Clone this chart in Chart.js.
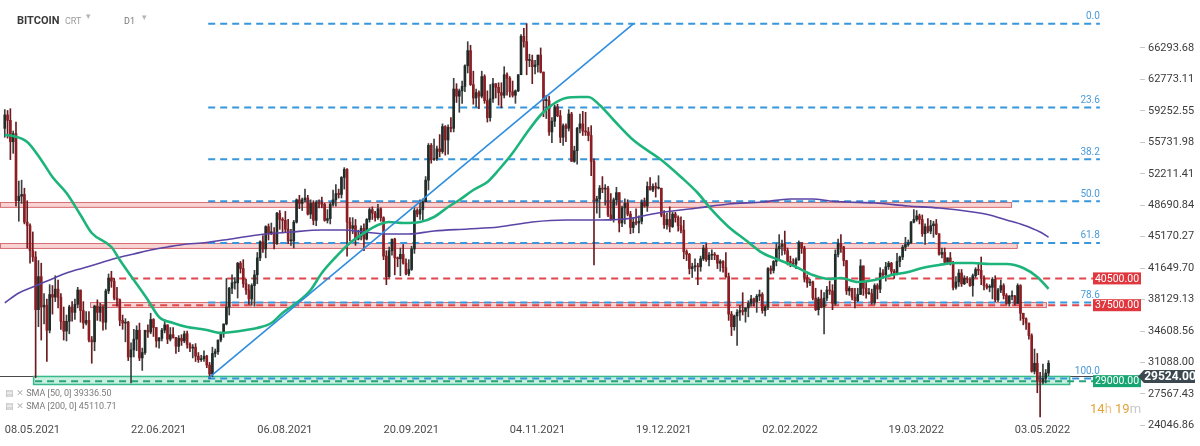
<!DOCTYPE html>
<html>
<head>
<meta charset="utf-8">
<script src="https://cdn.jsdelivr.net/npm/chart.js@4.4.0/dist/chart.umd.min.js"></script>
<style>
  html, body { margin: 0; padding: 0; background: #fff; }
  #wrap { position: relative; width: 1200px; height: 446px; font-family: Roboto, sans-serif; overflow: hidden; }
  #wrap canvas { position: absolute; left: 0; top: 0; }
  .txt { position: absolute; white-space: nowrap; line-height: 1; }
  .sym { font-family: "DejaVu Sans", sans-serif; color: #b5b5b5; }
</style>
</head>
<body>
<div id="wrap">
  <canvas id="chart" width="1200" height="446"></canvas>
  <div class="txt" style="left:17px;top:15px;font-size:11px;font-weight:700;color:#3a3a3a">BITCOIN</div>
  <div class="txt" style="left:65px;top:17px;font-size:9px;color:#9a9a9a">CRT</div>
  <div class="txt sym" style="left:86px;top:12px;font-size:9px">▾</div>
  <div class="txt" style="left:124px;top:17px;font-size:9px;color:#777">D1</div>
  <div class="txt sym" style="left:142px;top:13px;font-size:9px">▾</div>
  <div class="txt" style="left:5px;top:389px;font-size:9px;color:#7a7a7a"><span class="sym">▤ ✕</span> SMA [50, 0] 39336.50</div>
  <div class="txt" style="left:5px;top:402px;font-size:9px;color:#7a7a7a"><span class="sym">▤ ✕</span> SMA [200, 0] 45110.71</div>
  <div class="txt" style="left:1090px;top:402px;font-size:13px;color:#e3a33a">14<span style="color:#ecc58c">h</span> 19<span style="color:#c9c9c9">m</span></div>
</div>
<script>
// daily candles from 08.05.2021, prices in thousands of USD
const opens = [
  57.3,58.8,58.2,55.8,56.7,49.2,49.7,49.9,46.8,46.4,43.6,42.9,37.0,40.7,37.3,37.5,34.7,38.7,38.4,39.3,38.4,35.7,34.6,35.7,
  37.3,36.7,37.6,39.2,36.9,35.5,35.8,33.6,33.4,37.4,36.7,37.3,35.6,39.1,40.5,40.2,38.3,38.1,35.8,35.5,35.6,31.7,32.5,33.7,34.7,31.6,32.2,34.7,34.5,35.9,
  35.0,33.5,33.8,34.7,35.3,33.7,34.2,33.9,32.9,33.8,33.5,34.3,33.1,32.7,32.8,31.8,31.4,31.5,31.8,30.8,29.8,32.1,32.3,33.6,34.3,35.4,37.3,39.4,40.0,40.0,42.2,
  41.6,39.9,39.2,38.2,39.7,40.9,42.8,44.6,43.8,46.3,45.6,45.6,44.4,47.8,47.1,47.0,46.0,44.7,44.7,46.8,49.3,48.9,49.3,49.5,47.7,48.9,47.0,49.0,48.9,48.8,47.0,
  47.2,48.8,49.3,50.0,49.9,51.8,52.7,46.8,46.1,46.4,44.9,45.2,46.1,44.9,47.1,48.2,47.8,47.3,48.3,47.3,43.0,40.7,43.6,44.9,42.8,42.7,43.2,42.2,41.0,41.5,
  43.8,48.1,47.7,48.2,49.1,51.5,55.4,53.8,53.9,55.0,54.7,57.5,56.0,57.4,57.3,61.7,60.9,61.5,62.0,64.3,66.0,62.2,60.7,61.3,60.9,63.1,60.4,58.5,60.6,62.3,61.9,
  61.3,61.0,63.3,62.9,61.4,61.0,61.5,63.3,67.6,67.0,64.9,64.9,64.2,64.4,65.5,63.6,60.4,60.4,56.9,58.1,59.7,58.7,56.3,57.6,57.3,58.9,53.6,54.8,57.3,57.8,
  57.0,56.9,56.5,53.6,49.2,49.4,50.6,50.5,50.6,47.6,47.1,49.3,50.1,46.7,48.4,48.9,47.7,46.2,46.8,46.7,46.9,49.0,48.6,50.8,50.4,50.8,50.6,50.6,47.6,46.5,47.1,
  46.3,47.7,47.3,46.4,45.9,43.5,43.2,41.6,41.8,41.9,41.8,42.7,43.9,42.6,43.1,43.2,43.1,42.2,42.4,41.7,40.7,36.5,35.1,36.3,36.7,36.9,36.8,37.2,37.7,38.2,37.9,
  38.5,38.7,36.9,37.3,41.6,41.4,42.4,43.8,44.1,44.3,43.6,42.4,42.2,42.1,42.6,44.5,43.9,40.6,40.0,40.1,38.3,37.0,38.2,37.3,38.3,39.2,39.1,37.7,
  43.2,44.4,44.0,42.5,39.1,39.4,38.4,38.0,38.7,41.9,39.4,38.8,38.8,37.8,39.7,39.3,41.1,40.9,41.8,42.2,41.3,41.0,42.4,42.9,44.0,44.3,44.5,46.8,47.1,47.5,47.1,
  45.5,46.3,45.8,46.4,46.6,45.5,43.2,43.4,42.3,42.8,42.2,39.5,40.1,41.1,39.9,40.5,40.4,39.7,40.8,41.5,41.4,40.5,39.7,39.5,39.5,40.4,38.1,39.2,39.7,38.6,
  37.7,38.5,38.5,37.7,39.7,36.6,36.0,35.5,34.1,30.1,31.0,29.0,28.9,29.3,29.9
];
const highs = [
  59.4,59.3,59.5,57.0,58.0,51.4,51.5,50.6,49.2,46.6,45.7,43.5,42.5,42.2,38.8,38.2,39.8,39.7,40.8,40.3,38.8,37.3,36.4,37.5,
  37.9,38.2,39.5,39.2,37.9,36.8,36.8,34.0,37.5,38.1,37.7,37.4,39.3,41.0,41.3,40.5,39.5,38.2,36.4,36.0,35.7,33.3,34.8,35.2,35.5,32.7,34.7,35.3,36.6,36.0,
  35.0,33.9,34.9,35.9,35.3,35.0,35.0,33.9,34.1,34.2,34.6,34.6,33.3,33.1,33.2,32.2,31.9,32.4,31.9,31.1,32.8,32.6,33.6,34.5,35.4,40.5,39.5,40.9,40.6,42.3,42.4,
  42.6,40.4,39.8,39.9,41.4,43.4,44.7,45.3,46.4,46.6,46.7,46.2,47.9,48.1,47.3,48.0,47.1,46.0,47.0,49.4,49.8,49.5,50.5,49.8,49.3,49.2,49.2,49.3,49.6,48.9,48.2,
  49.0,50.4,51.0,50.5,51.9,52.9,52.8,47.3,47.3,47.1,45.9,46.4,46.6,47.2,48.4,48.5,48.0,48.8,48.4,47.4,43.6,44.0,44.9,45.0,42.9,43.9,44.3,42.7,42.6,44.1,
  48.4,48.3,49.3,49.4,51.9,55.6,55.6,56.1,55.3,56.6,57.8,57.6,57.7,58.5,62.9,62.3,61.7,62.6,64.4,67.0,66.6,63.7,61.7,61.5,63.7,63.3,61.5,62.2,62.9,62.3,62.4,
  62.4,64.2,63.5,63.1,62.6,61.6,63.3,67.8,68.5,69.0,65.6,65.5,64.9,65.5,66.3,63.6,61.0,60.9,58.5,59.9,60.0,59.3,57.8,57.8,59.4,59.1,55.3,57.4,58.9,59.2,
  59.1,57.4,57.6,53.9,49.7,50.9,51.9,51.0,50.8,50.0,49.5,50.7,50.1,48.6,49.4,49.3,48.0,47.3,48.3,47.5,49.3,49.5,51.3,51.8,51.1,51.2,52.0,50.6,48.1,47.8,48.5,
  47.9,47.9,47.5,47.4,47.0,43.7,43.3,42.2,42.7,42.2,43.0,44.2,44.4,43.4,43.7,43.4,43.1,42.6,42.5,43.4,41.1,36.8,36.4,37.0,37.5,38.9,37.2,38.0,38.6,38.3,38.7,
  39.2,38.9,37.4,41.7,41.9,42.5,44.4,45.4,44.8,45.8,43.9,43.0,42.7,42.8,44.7,44.5,44.1,40.9,40.4,40.2,39.4,38.4,39.2,38.9,39.6,40.2,39.8,43.7,
  44.9,45.4,44.1,42.5,39.6,39.4,39.4,39.4,42.6,41.9,40.2,39.4,39.3,39.9,39.9,41.7,41.5,42.3,42.4,42.3,41.5,43.3,43.0,44.2,45.1,44.8,46.9,48.2,48.1,47.7,47.6,
  46.6,47.2,47.0,46.9,47.1,45.5,43.9,43.9,42.8,43.4,42.4,40.7,41.5,41.5,40.8,40.7,40.6,41.0,41.7,42.2,42.9,40.8,39.9,39.8,40.6,40.8,39.4,40.3,39.9,38.8,
  38.6,39.1,38.6,39.9,39.8,36.6,36.1,35.5,34.3,32.6,32.1,30.0,30.9,30.3,31.3
];
const lows = [
  56.3,56.2,53.8,54.5,48.6,46.9,48.9,46.6,43.9,42.2,42.4,29.4,35.1,33.6,35.4,31.2,34.4,36.5,37.9,37.2,34.8,33.6,33.5,34.3,
  35.7,35.9,37.2,35.6,34.9,35.3,33.4,31.0,32.4,35.8,35.7,34.7,34.8,38.8,39.5,38.1,37.4,35.2,34.8,33.4,31.3,28.8,31.7,32.4,31.3,30.2,32.0,33.9,34.3,34.0,
  32.8,32.7,33.5,34.4,33.2,33.5,33.8,32.1,32.3,33.0,33.3,32.7,32.3,31.6,31.2,31.1,31.2,31.2,30.5,29.3,29.5,31.7,32.0,33.4,33.9,35.3,36.4,38.8,39.3,38.3,41.1,
  39.5,38.7,37.6,37.5,37.4,39.9,42.5,43.4,42.8,44.8,45.4,43.8,44.3,46.0,45.6,45.7,44.4,44.2,43.9,46.7,48.3,48.1,49.1,47.6,47.2,46.5,46.4,48.4,48.4,46.9,46.7,
  46.6,48.6,48.6,49.5,49.5,50.5,43.0,44.7,45.5,44.2,44.8,44.8,43.6,44.8,46.8,47.1,46.9,47.1,46.9,42.6,39.8,40.6,43.1,40.9,41.8,40.8,42.1,40.9,40.8,41.4,
  43.3,47.4,47.1,46.9,49.1,50.4,53.4,53.7,53.7,54.1,54.5,54.3,54.4,56.9,56.9,60.2,59.1,60.1,61.4,63.5,62.1,60.0,59.7,59.5,60.7,60.1,58.0,58.1,60.2,60.7,59.9,
  59.6,60.7,61.0,60.8,60.8,60.1,61.4,63.3,66.4,63.3,64.2,62.3,63.4,63.6,63.5,58.6,58.4,56.5,55.7,57.5,58.6,55.7,55.4,55.8,57.0,53.6,53.5,53.3,56.8,56.5,
  56.5,55.9,52.0,42.0,47.8,47.3,50.1,48.7,47.4,47.0,46.8,48.7,45.7,46.3,46.6,47.5,45.5,45.6,46.5,45.6,46.6,48.5,48.0,50.4,50.2,49.6,50.5,47.4,46.1,46.0,45.7,
  46.2,46.8,45.8,45.6,42.7,42.5,41.0,40.6,41.3,39.8,41.3,42.5,42.4,41.9,42.6,42.6,41.6,41.3,41.2,40.6,35.8,34.1,34.7,33.0,35.8,36.4,35.6,36.2,37.4,37.4,36.7,
  38.0,36.6,36.3,37.0,41.0,41.1,41.9,42.7,43.1,43.2,42.0,41.8,41.9,41.6,42.5,43.3,40.1,39.5,39.7,38.1,36.9,36.4,37.2,34.3,38.0,38.7,37.0,37.5,
  42.9,43.4,41.9,38.7,38.6,38.1,37.2,37.9,38.7,38.6,38.3,38.7,37.6,37.6,38.2,38.9,40.5,40.2,41.5,40.9,40.5,40.9,41.8,42.6,43.6,44.1,44.4,46.7,46.9,46.6,45.2,
  44.3,45.6,45.5,45.1,45.4,43.1,42.8,42.1,42.1,42.0,39.2,39.3,39.6,39.6,39.8,40.0,39.6,38.5,40.6,40.9,39.8,39.2,39.3,39.0,38.2,37.9,37.9,38.9,38.2,37.6,
  37.4,38.1,37.5,37.7,35.8,35.3,34.8,33.7,30.0,29.8,27.7,25.0,28.7,28.8,29.6
];
const closes = [
  58.8,58.2,55.8,56.7,49.2,49.7,49.9,46.8,46.4,43.6,42.9,37.0,40.7,37.3,37.5,34.7,38.7,38.4,39.3,38.4,35.7,34.6,35.7,37.3,
  36.7,37.6,39.2,36.9,35.5,35.8,33.6,33.4,37.4,36.7,37.3,35.6,39.1,40.5,40.2,38.3,38.1,35.8,35.5,35.6,31.7,32.5,33.7,34.7,31.6,32.2,34.7,34.5,35.9,35.0,
  33.5,33.8,34.7,35.3,33.7,34.2,33.9,32.9,33.8,33.5,34.3,33.1,32.7,32.8,31.8,31.4,31.5,31.8,30.8,29.8,32.1,32.3,33.6,34.3,35.4,37.3,39.4,40.0,40.0,42.2,41.6,
  39.9,39.2,38.2,39.7,40.9,42.8,44.6,43.8,46.3,45.6,45.6,44.4,47.8,47.1,47.0,46.0,44.7,44.7,46.8,49.3,48.9,49.3,49.5,47.7,48.9,47.0,49.0,48.9,48.8,47.0,47.2,
  48.8,49.3,50.0,49.9,51.8,52.7,46.8,46.1,46.4,44.9,45.2,46.1,44.9,47.1,48.2,47.8,47.3,48.3,47.3,43.0,40.7,43.6,44.9,42.8,42.7,43.2,42.2,41.0,41.5,43.8,
  48.1,47.7,48.2,49.1,51.5,55.4,53.8,53.9,55.0,54.7,57.5,56.0,57.4,57.3,61.7,60.9,61.5,62.0,64.3,66.0,62.2,60.7,61.3,60.9,63.1,60.4,58.5,60.6,62.3,61.9,61.3,
  61.0,63.3,62.9,61.4,61.0,61.5,63.3,67.6,67.0,64.9,64.9,64.2,64.4,65.5,63.6,60.4,60.4,56.9,58.1,59.7,58.7,56.3,57.6,57.3,58.9,53.6,54.8,57.3,57.8,57.0,
  56.9,56.5,53.6,49.2,49.4,50.6,50.5,50.6,47.6,47.1,49.3,50.1,46.7,48.4,48.9,47.7,46.2,46.8,46.7,46.9,49.0,48.6,50.8,50.4,50.8,50.6,50.6,47.6,46.5,47.1,46.3,
  47.7,47.3,46.4,45.9,43.5,43.2,41.6,41.8,41.9,41.8,42.7,43.9,42.6,43.1,43.2,43.1,42.2,42.4,41.7,40.7,36.5,35.1,36.3,36.7,36.9,36.8,37.2,37.7,38.2,37.9,38.5,
  38.7,36.9,37.3,41.6,41.4,42.4,43.8,44.1,44.3,43.6,42.4,42.2,42.1,42.6,44.5,43.9,40.6,40.0,40.1,38.3,37.0,38.2,37.3,38.3,39.2,39.1,37.7,43.2,
  44.4,44.0,42.5,39.1,39.4,38.4,38.0,38.7,41.9,39.4,38.8,38.8,37.8,39.7,39.3,41.1,40.9,41.8,42.2,41.3,41.0,42.4,42.9,44.0,44.3,44.5,46.8,47.1,47.5,47.1,45.5,
  46.3,45.8,46.4,46.6,45.5,43.2,43.4,42.3,42.8,42.2,39.5,40.1,41.1,39.9,40.5,40.4,39.7,40.8,41.5,41.4,40.5,39.7,39.5,39.5,40.4,38.1,39.2,39.7,38.6,37.7,
  38.5,38.5,37.7,39.7,36.6,36.0,35.5,34.1,30.1,31.0,29.0,28.9,29.3,29.9,31.0
];

// moving averages (day index from 08.05.2021, price)
const sma50Days = [0,3,8,13,17,22,27,31,38,41,46,51,55,60,65,70,72,77,81,86,90,95,99,104,109,113,118,123,128,133,137,142,148,153,158,162,167,172,176,181,186,191,195,200,205,208,212,217,224,234,241,247,252,258,264,270,276,282,288,294,298,304,310,316,322,327,333,339,345,351,357,363,368,372];
const sma50Values = [56555,56443,55771,53756,51853,50062,47599,45584,44017,42562,40323,38084,36181,35509,35061,34838,34726,34390,34502,34726,34950,35509,36629,37748,39203,41106,42897,44465,45584,46480,46815,46703,46815,47375,48494,49278,50397,51293,52636,54539,56778,58793,59912,60696,60808,60808,59912,58233,55994,53756,51853,50062,48159,46256,44801,43346,42562,41779,40883,40436,40547,40100,40323,40883,41219,41667,42003,42227,42227,42115,42115,41667,40659,39336.5];
const sma200Days = [0,5,10,16,22,28,34,40,46,52,58,65,70,78,90,102,113,121,128,137,144,153,165,176,188,200,212,224,229,235,247,258,270,280,288,294,300,310,322,333,345,351,357,363,369,372];
const sma200Values = [37753,38872,39544,40323,41106,41666,42227,42785,43233,43681,44017,44353,44465,44801,45360,45696,45920,45920,45696,45472,45472,45808,46032,46256,46815,47039,47039,47263,47599,47935,48383,48830,49054,49390,49390,49166,49054,48942,48606,48383,47935,47599,47039,46480,45696,45110.71];

// fibonacci retracement 20.07.2021 low -> 10.11.2021 high
const fibRatios = [0, 23.6, 38.2, 50, 61.8, 78.6, 100];
const fibHigh = 69000, fibLow = 29300;
const fibDays = [72.5, 390.3];

// trend line
const trendDays = [72.5, 224];
const trendPrices = [29300, 69000];

// horizontal levels and zones
const levelPrices = [40500, 37500, 29000];
const levelStartDays = [36.5, 34, 10.8];
const zonePrices = [[48400, 49050], [43800, 44460], [37190, 37860], [28570, 29580]];
const zoneDays = [[-1.7, 359], [-1.7, 361], [30.4, 371.4], [10.1, 379.7]];
const currentPrice = 29524;

// axes
const xTickDays = [0, 45, 90, 135, 180, 225, 270, 315, 360];
const xTickLabels = ['08.05.2021', '22.06.2021', '06.08.2021', '20.09.2021', '04.11.2021', '19.12.2021', '02.02.2022', '19.03.2022', '03.05.2022'];
const yTicks = [66293.68, 62773.11, 59252.55, 55731.98, 52211.41, 48690.84, 45170.27, 41649.70, 38129.13, 34608.56, 31088.00, 27567.43, 24046.86];

const K = 1000;
const xMin = -1.7, xMax = 404.6, yMin = 24202, yMax = 71667;

const BULL = '#1f2c27', BEAR = '#8c1e23';
const up = closes.map((c, i) => c >= opens[i]);
const wickData = closes.map((c, i) => ({ x: i, y: [lows[i] * K, highs[i] * K] }));
const bodyData = closes.map((c, i) => ({ x: i, y: [Math.min(opens[i], c) * K, Math.max(opens[i], c) * K] }));

const hLine = (d0, d1, p) => [{ x: d0, y: p }, { x: d1, y: p }];
const fibPrice = r => fibHigh - r / 100 * (fibHigh - fibLow);

const levelColors = ['#e0474c', '#e0474c', '#27a579'];
const datasets = [];

datasets.push({ type: 'line', data: trendDays.map((d, i) => ({ x: d, y: trendPrices[i] })), borderColor: '#2f8de0', borderWidth: 1.6, pointRadius: 0, order: 0 });
datasets.push({ type: 'line', data: sma50Days.map((d, i) => ({ x: d, y: sma50Values[i] })), borderColor: '#1db47b', borderWidth: 2.6, pointRadius: 0, cubicInterpolationMode: 'monotone', order: 1 });
datasets.push({ type: 'line', data: sma200Days.map((d, i) => ({ x: d, y: sma200Values[i] })), borderColor: '#5b44a6', borderWidth: 1.6, pointRadius: 0, cubicInterpolationMode: 'monotone', order: 2 });
datasets.push({ type: 'bar', data: bodyData, grouped: false, barThickness: 2, minBarLength: 1,
  backgroundColor: up.map(u => u ? BULL : BEAR), borderWidth: 0, order: 4 });
datasets.push({ type: 'bar', data: wickData, grouped: false, barThickness: 1,
  backgroundColor: up.map(u => u ? '#3b3f3d' : '#6a1c20'), borderWidth: 0, order: 5 });
fibRatios.forEach(r => {
  datasets.push({ type: 'line', data: hLine(fibDays[0], fibDays[1], fibPrice(r)), borderColor: '#3796dc', borderWidth: 2, borderDash: [7, 5], pointRadius: 0, order: 7 });
});
levelPrices.forEach((p, i) => {
  datasets.push({ type: 'line', data: hLine(levelStartDays[i], xMax, p), borderColor: levelColors[i], borderWidth: 2, borderDash: [7, 5], pointRadius: 0, order: 8 });
});

const overlay = {
  id: 'overlay',
  beforeDatasetsDraw(chart) {
    const { ctx, chartArea: a, scales: { x, y } } = chart;
    ctx.save();
    ctx.beginPath(); ctx.rect(a.left, a.top, a.width, a.height); ctx.clip();
    const py = Math.round(y.getPixelForValue(currentPrice)) + 0.5;
    ctx.strokeStyle = '#4a4a4a'; ctx.lineWidth = 1;
    ctx.beginPath(); ctx.moveTo(a.left, py); ctx.lineTo(a.right, py); ctx.stroke();
    zonePrices.forEach((z, i) => {
      const green = i === zonePrices.length - 1;
      const x0 = x.getPixelForValue(zoneDays[i][0]), x1 = x.getPixelForValue(zoneDays[i][1]);
      const y0 = y.getPixelForValue(z[1]), y1 = y.getPixelForValue(z[0]);
      ctx.fillStyle = green ? '#c8efdf' : '#f9d4d4';
      ctx.fillRect(x0, y0, x1 - x0, y1 - y0);
      ctx.strokeStyle = green ? '#37b98a' : '#d56f72';
      ctx.lineWidth = green ? 1.5 : 1;
      ctx.strokeRect(x0 + 0.5, y0 + 0.5, x1 - x0 - 1, y1 - y0 - 1);
    });
    ctx.restore();
  },
  afterDraw(chart) {
    const { ctx, chartArea: a, scales: { x, y } } = chart;
    ctx.save();
    // fib labels
    ctx.font = '10px Roboto';
    ctx.fillStyle = '#4a9bd8';
    ctx.textAlign = 'right';
    ctx.textBaseline = 'bottom';
    const fx = x.getPixelForValue(fibDays[1]);
    fibRatios.forEach(r => ctx.fillText(r.toFixed(1), fx, y.getPixelForValue(fibPrice(r)) - 2));
    // level tags
    const tagColors = ['#e0363d', '#e0363d', '#17a673'];
    ctx.textAlign = 'center';
    ctx.textBaseline = 'middle';
    ctx.font = '10.5px Roboto';
    levelPrices.forEach((p, i) => {
      const yy = y.getPixelForValue(p);
      ctx.fillStyle = tagColors[i];
      ctx.fillRect(a.right - 47, yy - 6, 48, 12);
      ctx.fillStyle = '#fff';
      ctx.fillText(p.toFixed(2), a.right - 23, yy + 0.5);
    });
    // current price tag
    const cy = y.getPixelForValue(currentPrice);
    ctx.fillStyle = '#3c4850';
    ctx.beginPath();
    ctx.moveTo(a.right - 2, cy);
    ctx.lineTo(a.right + 4, cy - 6.5);
    ctx.lineTo(a.right + 55, cy - 6.5);
    ctx.lineTo(a.right + 55, cy + 6.5);
    ctx.lineTo(a.right + 4, cy + 6.5);
    ctx.closePath();
    ctx.fill();
    ctx.fillStyle = '#fff';
    ctx.font = 'bold 12px Roboto';
    ctx.fillText(currentPrice.toFixed(2), a.right + 30, cy + 0.5);
    ctx.restore();
  }
};

Chart.defaults.font.family = 'Roboto';

new Chart(document.getElementById('chart'), {
  type: 'bar',
  data: { datasets },
  options: {
    responsive: false,
    animation: false,
    events: [],
    layout: { padding: 0 },
    plugins: { legend: { display: false }, tooltip: { enabled: false } },
    scales: {
      x: {
        type: 'linear', min: xMin, max: xMax, offset: false,
        grid: { display: false, drawTicks: false, tickLength: 0 }, border: { display: false },
        afterBuildTicks: ax => { ax.ticks = xTickDays.map(v => ({ value: v })); },
        afterFit: ax => { ax.height = 22; ax.paddingLeft = 0; ax.paddingRight = 0; },
        ticks: {
          align: 'start', padding: 0, autoSkip: false, maxRotation: 0,
          font: { size: 11 }, color: '#4a4a4a',
          callback: (v, i) => xTickLabels[i]
        }
      },
      y: {
        position: 'right', min: yMin, max: yMax,
        grid: { display: true, drawOnChartArea: false, drawTicks: true, tickLength: 5, color: '#c8c8c8' },
        border: { display: false },
        afterBuildTicks: ax => { ax.ticks = yTicks.map(v => ({ value: v })); },
        afterFit: ax => { ax.width = 60; ax.paddingTop = 0; ax.paddingBottom = 0; },
        ticks: {
          padding: 3, autoSkip: false,
          font: { size: 11 }, color: '#3c3c3c',
          callback: v => v.toFixed(2)
        }
      }
    }
  },
  plugins: [overlay]
});
</script>
</body>
</html>
